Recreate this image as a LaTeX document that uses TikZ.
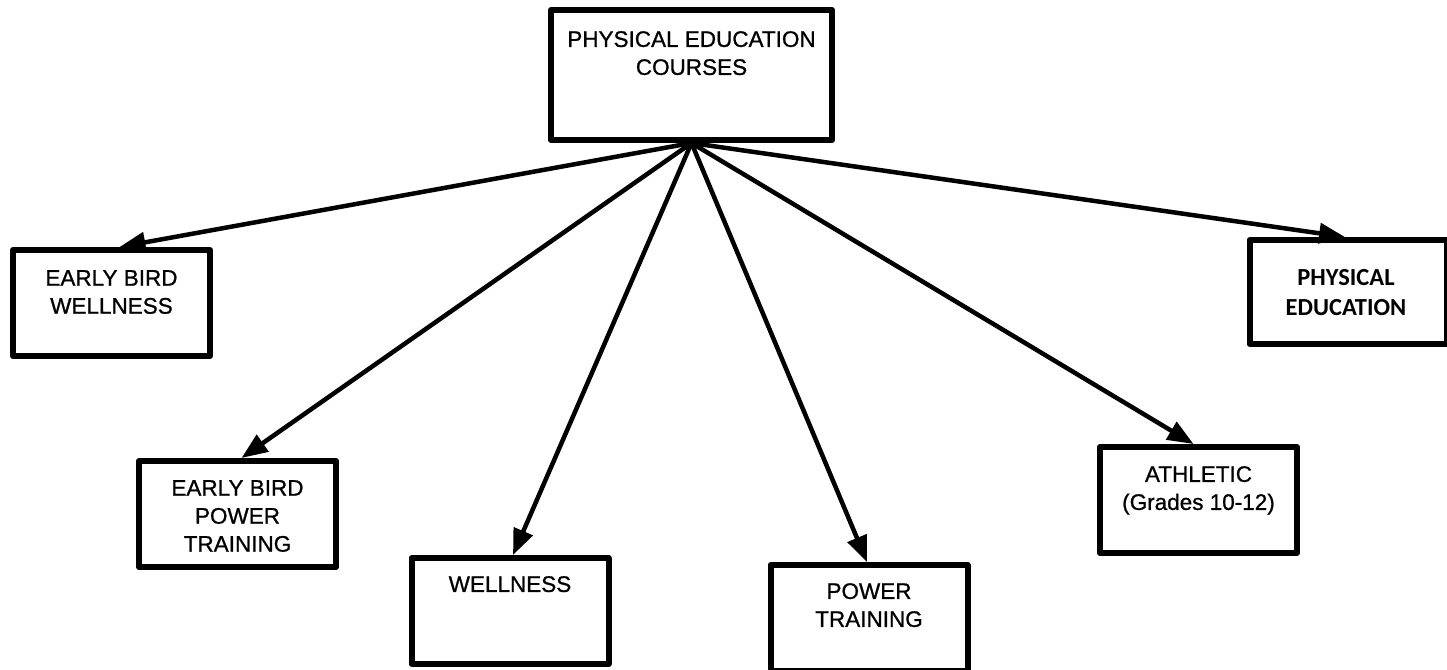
\documentclass[tikz,border=0pt]{standalone}
\usepackage{fontspec}
\setmainfont{Liberation Sans}[BoldFont=Liberation Sans, BoldFeatures={FakeBold=0.9}]
\newfontfamily\carlito{Carlito}
\usetikzlibrary{arrows.meta,positioning}
\begin{document}
\begin{tikzpicture}[x=1pt, y=-1pt, line join=round,
	box/.style={draw, line width=6pt, minimum width=197pt, minimum height=106pt, inner sep=0pt},
	lbl/.style={font=\bfseries\fontsize{22.5}{28}\selectfont, align=center, inner sep=0pt, anchor=north},
	arr/.style={-{Triangle[length=26pt,width=20pt]}, line width=4.5pt}]
	\useasboundingbox (0,0) rectangle (1447,669);
	% boxes
	\node[box, minimum width=281pt, minimum height=130pt] (pec) at (691.5,75) {};
	\node[box] (ebw) at (111.5,303) {};
	\node[box] (ebpt) at (237.5,514) {};
	\node[box] (wel) at (510,611) {};
	\node[box] (pt) at (869,618) {};
	\node[box] (ath) at (1198.5,500) {};
	\node[box, minimum height=104pt] (pe) at (1348,292) {};
	% texts
	\node[lbl, below=24pt of pec.north] (pec-t) {PHYSICAL EDUCATION\\COURSES};
	\node[lbl, below=23pt of ebw.north] (ebw-t) {EARLY BIRD\\WELLNESS};
	\node[lbl, below=22pt of ebpt.north] (ebpt-t) {EARLY BIRD\\POWER\\TRAINING};
	\node[lbl, below=21pt of wel.north] (wel-t) {WELLNESS};
	\node[lbl, below=21pt of pt.north] (pt-t) {POWER\\TRAINING};
	\node[lbl, below=22pt of ath.north] (ath-t) {ATHLETIC\\(Grades 10-12)};
	\node[lbl, below=32pt of pe.north, xshift=-2pt, font=\carlito\bfseries\fontsize{24.5}{30}\selectfont] (pe-t) {PHYSICAL\\EDUCATION};
	% arrows
	\draw[arr] (pec.south) -- ([xshift=8pt]ebw.north);
	\draw[arr] (pec.south) -- ([xshift=4pt]ebpt.north);
	\draw[arr] (pec.south) -- ([xshift=3pt]wel.north);
	\draw[arr] (pec.south) -- ([xshift=-2pt]pt.north);
	\draw[arr] (pec.south) -- ([xshift=-5pt]ath.north);
	\draw[arr] (pec.south) -- ([xshift=-3pt]pe.north);
\end{tikzpicture}
\end{document}
